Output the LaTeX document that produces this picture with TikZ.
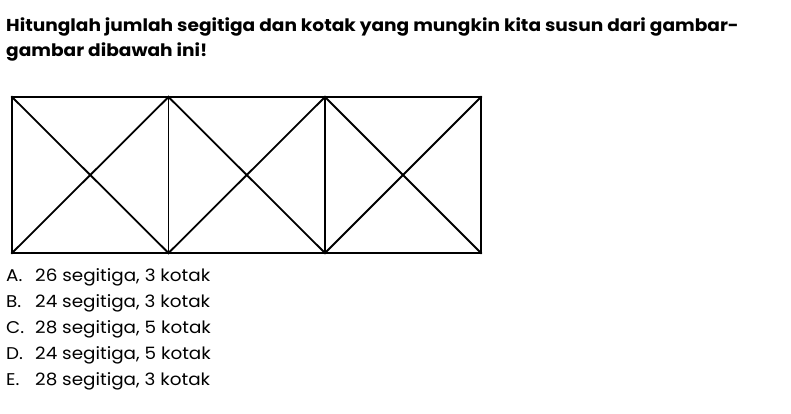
\documentclass[tikz,border=0pt]{standalone}
\usepackage{fontspec}
\setmainfont{Poppins}[FakeStretch=1.08]
\usetikzlibrary{positioning}

\tikzset{
    judul/.style={anchor=base west, inner sep=0pt, font=\fontsize{17.2}{20}\selectfont\bfseries},
    pilihan/.style={anchor=base west, inner sep=0pt, font=\fontsize{17.0}{20}\selectfont},
    garis/.style={line width=1.8pt, line cap=rect}
}

\begin{document}
\begin{tikzpicture}[x=1pt,y=1pt,yscale=-1]
    \useasboundingbox (0,0) rectangle (791,414);

    % Soal
    \node[judul] (soal1) at (6,32) {Hitunglah jumlah segitiga dan kotak yang mungkin kita susun dari gambar-};
    \node[judul] (soal2) at (6,57) {gambar dibawah ini!};

    % Gambar: tiga persegi dengan diagonal
    \foreach \i/\xa/\xb in {1/12/168.5, 2/168.5/325, 3/325/481} {
        \coordinate (ka\i) at (\xa,97);
        \coordinate (kb\i) at (\xb,97);
        \coordinate (kc\i) at (\xb,253);
        \coordinate (kd\i) at (\xa,253);
        \draw[garis] (ka\i) -- (kb\i) -- (kc\i) -- (kd\i) -- cycle;
        \draw[garis] (ka\i) -- (kc\i);
        \draw[garis] (kb\i) -- (kd\i);
    }

    % Pilihan jawaban
    \foreach \h/\teks [count=\n] in {A/26 segitiga{,} 3 kotak, B/24 segitiga{,} 3 kotak, C/28 segitiga{,} 5 kotak, D/24 segitiga{,} 5 kotak, E/28 segitiga{,} 3 kotak} {
        \node[pilihan] (huruf\h) at (6,255+26*\n) {\h.};
        \node[pilihan] (jawab\h) at (35,255+26*\n) {\teks};
    }
\end{tikzpicture}
\end{document}
